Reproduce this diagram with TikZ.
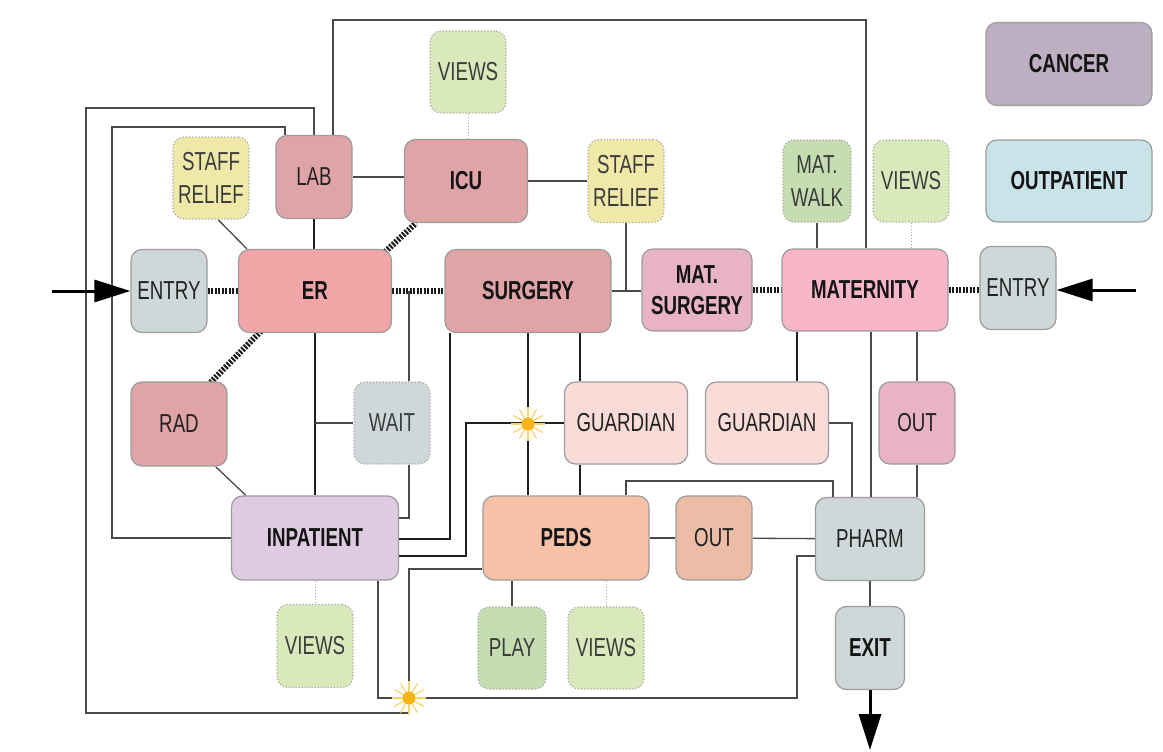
\documentclass[tikz,border=0pt]{standalone}
\usepackage{fontspec}
\usetikzlibrary{arrows.meta,calc}
\newfontfamily\cond[FakeStretch=0.72]{Liberation Sans}
\definecolor{bordgray}{HTML}{9C9C9C}
\definecolor{dotgray}{HTML}{A8A8A8}
\definecolor{linegray}{HTML}{4A4A4A}
\definecolor{cancerC}{HTML}{BDAEC2}
\definecolor{outpatC}{HTML}{C9E3E8}
\definecolor{viewsC}{HTML}{D9E9BC}
\definecolor{staffC}{HTML}{F0E8A8}
\definecolor{clinC}{HTML}{E0A3A6}
\definecolor{erC}{HTML}{F2A5A7}
\definecolor{matsurgC}{HTML}{E8B3C6}
\definecolor{maternC}{HTML}{F8B6C8}
\definecolor{entryC}{HTML}{CED8D9}
\definecolor{guardC}{HTML}{F9DBD7}
\definecolor{inpatC}{HTML}{DFCBE1}
\definecolor{pedsC}{HTML}{F6C1A6}
\definecolor{outPC}{HTML}{ECBDA6}
\definecolor{greenC}{HTML}{C5DDB0}
\definecolor{txtC}{HTML}{222222}
\definecolor{auxtxt}{HTML}{3C3C3C}
\definecolor{sunC}{HTML}{F6B516}
\definecolor{rayC}{HTML}{FBD46A}
\pgfdeclarelayer{bg}
\pgfsetlayers{bg,main}
\tikzset{
  box/.style={draw=bordgray, line width=1.2pt, rounded corners=11pt, inner sep=0pt, align=center,
    font=\cond\fontsize{26}{33}\selectfont, text=txtC},
  main/.style={box, font=\cond\bfseries\fontsize{26}{31}\selectfont, text=black!92},
  aux/.style={box, draw=dotgray, dotted, text=auxtxt},
  sz/.style 2 args={minimum width=#1pt, minimum height=#2pt},
  thinl/.style={draw=linegray, line width=1.3pt},
  thickl/.style={draw=black!88, line width=2.4pt},
  hatch/.style={draw=black!90, line width=6pt, dash pattern=on 2pt off 1.5pt},
  dotl/.style={draw=gray!70, line width=1pt, dotted},
  bigarrow/.style={draw=black, line width=3pt, -{Triangle[length=36pt,width=22pt]}},
  sunray/.style={draw=rayC, line width=1.2pt},
}
\begin{document}
\begin{tikzpicture}[x=1pt,y=-1pt]
\useasboundingbox (0,0) rectangle (1163,752);
% legend
\node[main, fill=cancerC, sz={166}{83}] (cancer) at (1069,64) {CANCER};
\node[main, fill=outpatC, sz={166}{82}] (outpat) at (1069,181) {OUTPATIENT};
% top row
\node[aux, fill=viewsC, sz={76}{82}] (viewsT) at (468,72) {VIEWS};
\node[aux, fill=staffC, sz={76}{82}] (srL) at (211,178) {STAFF\\RELIEF};
\node[box, fill=clinC, sz={76}{83}] (lab) at (314,177) {LAB};
\node[main, fill=clinC, sz={123}{83}] (icu) at (466,181) {ICU};
\node[aux, fill=staffC, sz={76}{83}] (srR) at (626,181) {STAFF\\RELIEF};
\node[aux, fill=greenC, sz={68}{82}] (matwalk) at (817,181) {MAT.\\WALK};
\node[aux, fill=viewsC, sz={76}{82}] (viewsM) at (911,181) {VIEWS};
% main row
\node[box, fill=entryC, sz={76}{83}] (entryL) at (169,291) {ENTRY};
\node[main, fill=erC, sz={153}{83}] (er) at (315,291) {ER};
\node[main, fill=clinC, sz={166}{83}] (surg) at (528,291) {SURGERY};
\node[main, fill=matsurgC, sz={110}{82}] (matsurg) at (697,290) {MAT.\\SURGERY};
\node[main, fill=maternC, sz={166}{82}] (matern) at (865,290) {MATERNITY};
\node[box, fill=entryC, sz={76}{83}] (entryR) at (1018,288) {ENTRY};
% third row
\node[box, fill=clinC, sz={96}{84}] (rad) at (179,424) {RAD};
\node[aux, fill=entryC, sz={76}{82}] (wait) at (392,423) {WAIT};
\node[box, fill=guardC, sz={123}{82}] (guard1) at (626,423) {GUARDIAN};
\node[box, fill=guardC, sz={123}{82}] (guard2) at (767,423) {GUARDIAN};
\node[box, fill=matsurgC, sz={76}{82}] (outM) at (917,423) {OUT};
% fourth row
\node[main, fill=inpatC, sz={167}{84}] (inpat) at (315,538) {INPATIENT};
\node[main, fill=pedsC, sz={166}{84}] (peds) at (566,538) {PEDS};
\node[box, fill=outPC, sz={76}{84}] (outP) at (714,538) {OUT};
\node[box, fill=entryC, sz={109}{83}] (pharm) at (870,539) {PHARM};
% bottom row
\node[main, fill=entryC, sz={69}{83}] (exit) at (870,648) {EXIT};
\node[aux, fill=viewsC, sz={76}{83}] (viewsI) at (315,646) {VIEWS};
\node[aux, fill=greenC, sz={68}{82}] (play) at (512,648) {PLAY};
\node[aux, fill=viewsC, sz={76}{82}] (viewsP) at (606,648) {VIEWS};
% free ends
\coordinate (inL) at (52,291);
\coordinate (inR) at (1136,290);
\coordinate (outX) at (870,750);
\coordinate (s1) at (528,424);
\coordinate (s2) at (409,698);
\begin{pgfonlayer}{bg}
% hatched connections
\draw[hatch] (entryL) -- (er);
\draw[hatch] (er) -- (surg);
\draw[hatch] (matsurg) -- (matern);
\draw[hatch] (matern.east) -- (entryR.west |- matern.east);
\draw[hatch] ($(er.north east)+(-7,3)$) -- ($(icu.south west)+(12,0)$);
\draw[hatch] ($(er.south west)+(23,-2)$) -- ($(rad.north east)+(-17,1)$);
% top area
\draw[thinl] ($(srL.south)+(7,0)$) -- ($(er.north west)+(9,0)$);
\draw[thickl] (lab.south) -- (lab.south |- er.north);
\draw[thinl] (lab.east) -- (icu.west |- lab.east);
\draw[thinl] (icu) -- (srR);
\draw[dotl] (viewsT.south) -- (viewsT.south |- icu.north);
\draw[thinl] (srR.south) -- (srR.south |- surg.east);
\draw[thinl] (surg.east) -- (matsurg.west |- surg.east);
\draw[thinl] (matwalk) -- (matwalk |- matern.north);
\draw[dotl] (viewsM.south) -- (viewsM.south |- matern.north);
% long loops
\draw[thinl] (lab.north -| 333,0) -- (333,20) -- (866,20) -- (matern.north -| 866,0);
\draw[thinl] (lab.north) -- (314,108) -- (86,108) -- (86,713) -- (409,713) -- (409,569) -- (peds.west |- 0,569);
\draw[thinl] (lab.north -| 285,0) -- (285,127) -- (112,127) -- (112,538) -- (inpat.west);
% ER / inpatient area
\draw[thickl] (er) -- (inpat);
\draw[thinl] (wait.west -| er.south) -- (wait.west);
\draw[thinl] ($(rad.south east)+(-12,0)$) -- ($(inpat.north west)+(15,0)$);
\draw[thinl] (wait.north -| 409,0) -- (er.east -| 409,0);
\draw[thinl] (wait.south -| 409,0) -- (409,518) -- (inpat.east |- 0,518);
\draw[thickl] (surg.south -| 450,0) -- (450,539) -- (inpat.east |- 0,539);
\draw[thickl] (guard1.west) -- (466,423) -- (466,556) -- (inpat.east |- 0,556);
% surgery / peds
\draw[thickl] (surg.south -| 528,0) -- (peds.north -| 528,0);
\draw[thickl] (surg.south -| 580,0) -- (guard1.north -| 580,0);
\draw[thickl] (guard1.south -| 580,0) -- (peds.north -| 580,0);
\draw[thinl] (peds.north -| 626,0) -- (626,481) -- (833,481) -- (pharm.north -| 833,0);
\draw[thinl] (guard2.east) -- (852,423) -- (pharm.north -| 852,0);
% maternity
\draw[thickl] (matern.south -| 797,0) -- (guard2.north -| 797,0);
\draw[thinl] (matern.south -| 871,0) -- (pharm.north -| 871,0);
\draw[thinl] (matern.south -| outM) -- (outM);
\draw[thinl] (outM) -- (outM |- pharm.north);
% bottom
\draw[thinl] (peds) -- (outP);
\draw[thinl] (outP) -- (pharm);
\draw[thinl] (pharm) -- (exit);
\draw[thinl] (inpat.south -| 378,0) -- (378,698) -- (797,698) -- (797,556) -- (pharm.west |- 0,556);
\draw[dotl] (inpat) -- (viewsI);
\draw[thinl] (peds.south -| play) -- (play);
\draw[dotl] (peds.south -| viewsP) -- (viewsP);
% arrows
\draw[bigarrow] (inL) -- (entryL.west);
\draw[bigarrow] (inR) -- (entryR.east |- inR);
\draw[bigarrow] (exit.south) -- (outX);
\end{pgfonlayer}
% sunbursts
\foreach \p in {s1,s2}{
  \foreach \a in {0,30,...,330} \draw[sunray] (\p) -- ++(\a:17);
  \fill[sunC] (\p) circle (6.5);
}
\end{tikzpicture}
\end{document}
